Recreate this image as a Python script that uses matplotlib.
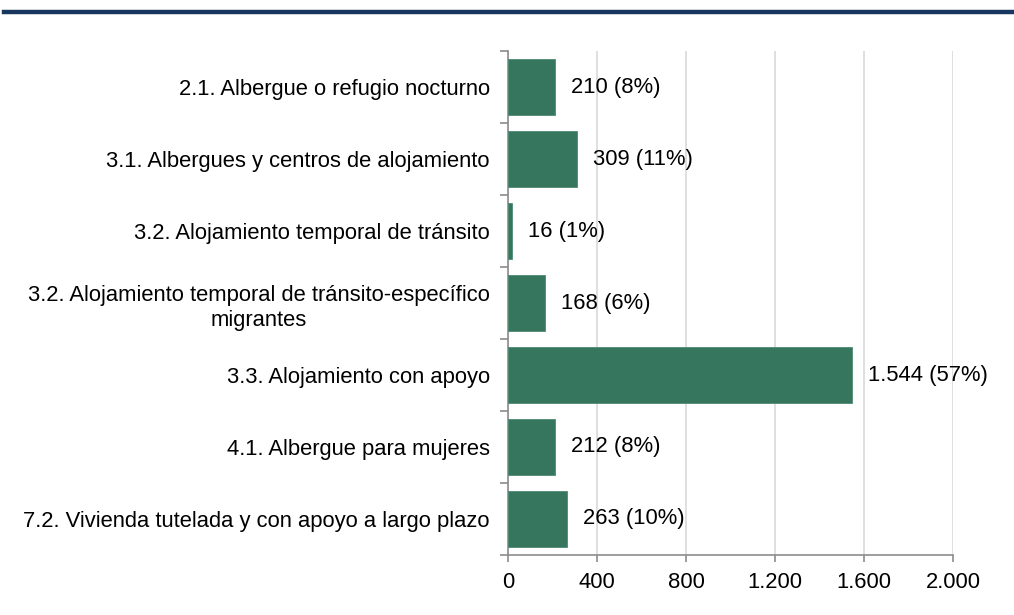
import numpy as np
import matplotlib.pyplot as plt
from matplotlib.lines import Line2D
from matplotlib.ticker import FixedLocator, FuncFormatter

plt.rcParams["font.family"] = ["Liberation Sans", "DejaVu Sans"]
plt.rcParams["font.size"] = 15.8

categories = ["2.1. Albergue o refugio nocturno",
              "3.1. Albergues y centros de alojamiento",
              "3.2. Alojamiento temporal de tránsito",
              "3.2. Alojamiento temporal de tránsito-específico\nmigrantes",
              "3.3. Alojamiento con apoyo",
              "4.1. Albergue para mujeres",
              "7.2. Vivienda tutelada y con apoyo a largo plazo"]
values = [210, 309, 16, 168, 1544, 212, 263]
percents = ["8%", "11%", "1%", "6%", "57%", "8%", "10%"]

green = "#36765E"
axis_grey = "#8C8C8C"

fig = plt.figure(figsize=(10.14, 6.15), dpi=100)
ax = fig.add_axes([0.501, 0.0976, 0.439, 0.8194])

y = np.arange(len(categories))
ax.barh(y, values, height=0.77, color=green, edgecolor="#4E8A72", linewidth=0.6, zorder=3)

for yi, v, p in zip(y, values, percents):
    txt = f"{v:,}".replace(",", ".") + f" ({p})"
    ax.text(v + 72, yi, txt, va="center", ha="left", fontsize=15.8, color="black", zorder=4)

ax.set_ylim(len(categories) - 0.5, -0.5)
ax.set_xlim(0, 2000)
ax.set_yticks(y)
ax.set_yticklabels(categories, multialignment="center", linespacing=1.25)
ax.yaxis.set_minor_locator(FixedLocator(np.arange(-0.5, len(categories), 1)))
ax.tick_params(axis="y", which="major", length=0, pad=13, labelsize=15.8)
ax.tick_params(axis="y", which="minor", length=6, width=1.2, color=axis_grey)

ax.set_xticks(np.arange(0, 2001, 400))
ax.xaxis.set_major_formatter(FuncFormatter(lambda v, pos: f"{int(v):,}".replace(",", ".")))
ax.tick_params(axis="x", length=5, width=1.2, color=axis_grey, labelsize=15.8, pad=7)

ax.grid(axis="x", color="#D9D9D9", linewidth=1.2, zorder=0)
for s in ["top", "right"]:
    ax.spines[s].set_visible(False)
for s in ["left", "bottom"]:
    ax.spines[s].set_color(axis_grey)
    ax.spines[s].set_linewidth(1.2)

fig.add_artist(Line2D([0.004, 1.0], [0.9805, 0.9805], color="#17375E", linewidth=3.2,
                      transform=fig.transFigure))

fig.savefig("out.png", dpi=100)
